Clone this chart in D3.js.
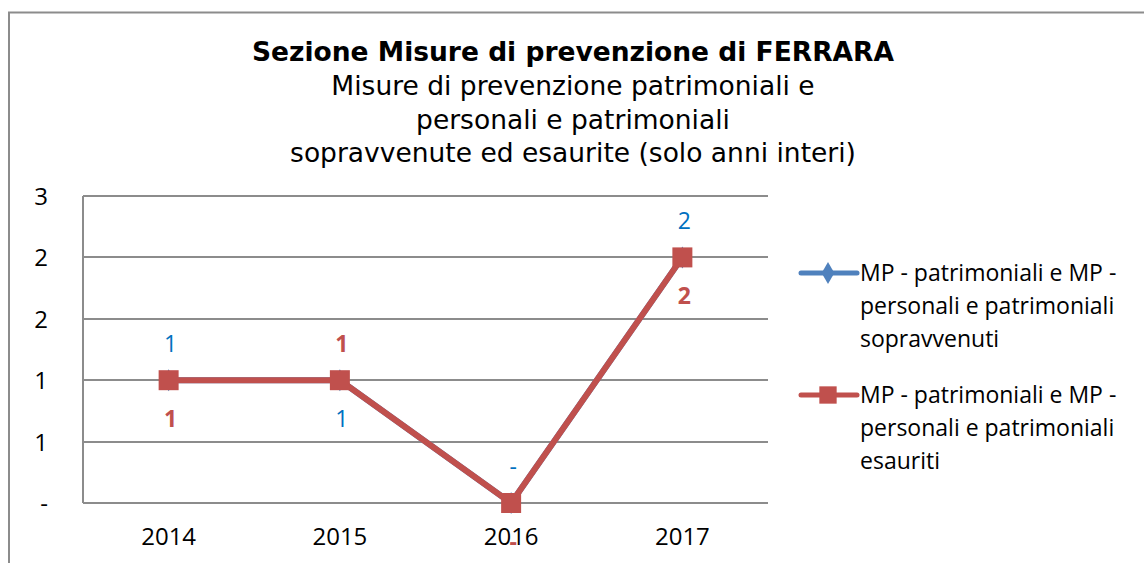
<!DOCTYPE html>
<html>
<head>
<meta charset="utf-8">
<style>
    body { margin: 0; background: white; }
    svg { font-family: "Open Sans", sans-serif; }
    .grid line { stroke: #8c8c8c; stroke-width: 2px; shape-rendering: crispEdges; }
    .axis path, .axis line { display: none; }
    .axis text { fill: black; font-size: 24px; font-family: "Open Sans", sans-serif; }
    .ttl { font-family: "DejaVu Sans", sans-serif; }
</style>
<script src="https://d3js.org/d3.v7.min.js"></script>
</head>
<body>
<div id="chart"></div>
<script>
    var years = ["2014", "2015", "2016", "2017"];
    var sopravvenuti = [1, 1, 0, 2];
    var esauriti = [1, 1, 0, 2];
    var yTicks = [0, 0.5, 1, 1.5, 2, 2.5];
    var yTickLabels = ["-", "1", "1", "2", "2", "3"];
    var title = "Sezione Misure di prevenzione di FERRARA";
    var subtitle = ["Misure di prevenzione patrimoniali e", "personali e patrimoniali", "sopravvenute ed esaurite (solo anni interi)"];
    var legendLabels = [
        ["MP - patrimoniali e MP -", "personali e patrimoniali", "sopravvenuti"],
        ["MP - patrimoniali e MP -", "personali e patrimoniali", "esauriti"]
    ];
    // which side of the point each data label sits on
    var labelSide = [
        ["above", "below", "above", "above"],
        ["below", "above", "below", "below"]
    ];

    var W = 1144, H = 563;
    var plot = { left: 83, right: 768, top: 196, bottom: 503 };

    var svg = d3.select("#chart").append("svg")
        .attr("width", W)
        .attr("height", H);

    // chart frame
    svg.append("path")
        .attr("d", "M9,563 L9,12.5 L1144,12.5")
        .attr("fill", "none")
        .attr("stroke", "#8c8c8c")
        .attr("stroke-width", 2);

    var x = d3.scaleBand().domain(years).range([plot.left, plot.right]);
    var y = d3.scaleLinear().domain([0, 2.5]).range([plot.bottom, plot.top]);

    // gridlines
    svg.append("g").attr("class", "grid")
        .selectAll("line").data(yTicks).join("line")
        .attr("x1", plot.left).attr("x2", plot.right)
        .attr("y1", function (d) { return Math.round(y(d)); })
        .attr("y2", function (d) { return Math.round(y(d)); });

    svg.append("line")
        .attr("x1", plot.left).attr("x2", plot.left)
        .attr("y1", plot.top).attr("y2", plot.bottom)
        .attr("stroke", "#8c8c8c").attr("stroke-width", 2)
        .style("shape-rendering", "crispEdges");

    // axes
    svg.append("g").attr("class", "axis")
        .attr("transform", "translate(" + (plot.left - 32) + ",0)")
        .call(d3.axisLeft(y).tickValues(yTicks).tickSize(0)
            .tickFormat(function (d, i) { return yTickLabels[i]; }))
        .selectAll("text").attr("dy", "0.35em");

    svg.append("g").attr("class", "axis")
        .attr("transform", "translate(0," + (plot.bottom + 22) + ")")
        .call(d3.axisBottom(x).tickSize(0));

    // title
    var t = svg.append("g").attr("text-anchor", "middle").attr("class", "ttl");
    t.append("text")
        .attr("x", 573).attr("y", 61)
        .attr("font-size", 26.5).attr("font-weight", "bold")
        .text(title);
    t.selectAll("text.sub").data(subtitle).join("text")
        .attr("class", "sub")
        .attr("x", 573)
        .attr("y", function (d, i) { return 95 + i * 33.5; })
        .attr("font-size", 26.5)
        .text(function (d) { return d; });

    var series = [
        { name: "sopravvenuti", values: sopravvenuti, color: "#4f81bd", label: "#0070c0", weight: "normal", marker: d3.symbolDiamond },
        { name: "esauriti", values: esauriti, color: "#c0504d", label: "#c0504d", weight: "bold", marker: d3.symbolSquare }
    ];

    var line = d3.line()
        .x(function (d, i) { return x(years[i]) + x.bandwidth() / 2; })
        .y(function (d) { return y(d); });

    series.forEach(function (s, si) {
        var g = svg.append("g");
        g.append("path")
            .datum(s.values)
            .attr("d", line)
            .attr("fill", "none")
            .attr("stroke", s.color)
            .attr("stroke-width", 6)
            .attr("stroke-linejoin", "round");
        g.selectAll("path.m").data(s.values).join("path")
            .attr("class", "m")
            .attr("d", d3.symbol().type(s.marker).size(si === 1 ? 400 : 140))
            .attr("transform", function (d, i) {
                return "translate(" + (x(years[i]) + x.bandwidth() / 2) + "," + y(d) + ")";
            })
            .attr("fill", s.color);
    });

    // data labels
    series.forEach(function (s, si) {
        svg.append("g").selectAll("text").data(s.values).join("text")
            .attr("x", function (d, i) { return x(years[i]) + x.bandwidth() / 2 + 2; })
            .attr("y", function (d, i) { return y(d) + (labelSide[si][i] === "above" ? -36 : 39); })
            .attr("dy", "0.35em")
            .attr("text-anchor", "middle")
            .attr("font-size", 23)
            .attr("font-weight", s.weight)
            .attr("fill", s.label)
            .text(function (d) { return d === 0 ? "-" : d3.format(".0f")(d); });
    });

    // legend
    var legend = svg.append("g");
    series.forEach(function (s, si) {
        var ly = 273 + si * 122;
        var lg = legend.append("g").attr("transform", "translate(0," + ly + ")");
        lg.append("line")
            .attr("x1", 801).attr("x2", 857)
            .attr("stroke", s.color).attr("stroke-width", 5)
            .attr("stroke-linecap", "round");
        lg.append("path")
            .attr("d", d3.symbol().type(s.marker).size(si === 1 ? 300 : 140))
            .attr("transform", "translate(828,0)")
            .attr("fill", s.color);
        lg.selectAll("text").data(legendLabels[si]).join("text")
            .attr("x", 860)
            .attr("y", function (d, i) { return i * 33; })
            .attr("dy", "0.35em")
            .attr("font-size", 23)
            .text(function (d) { return d; });
    });
</script>
</body>
</html>
